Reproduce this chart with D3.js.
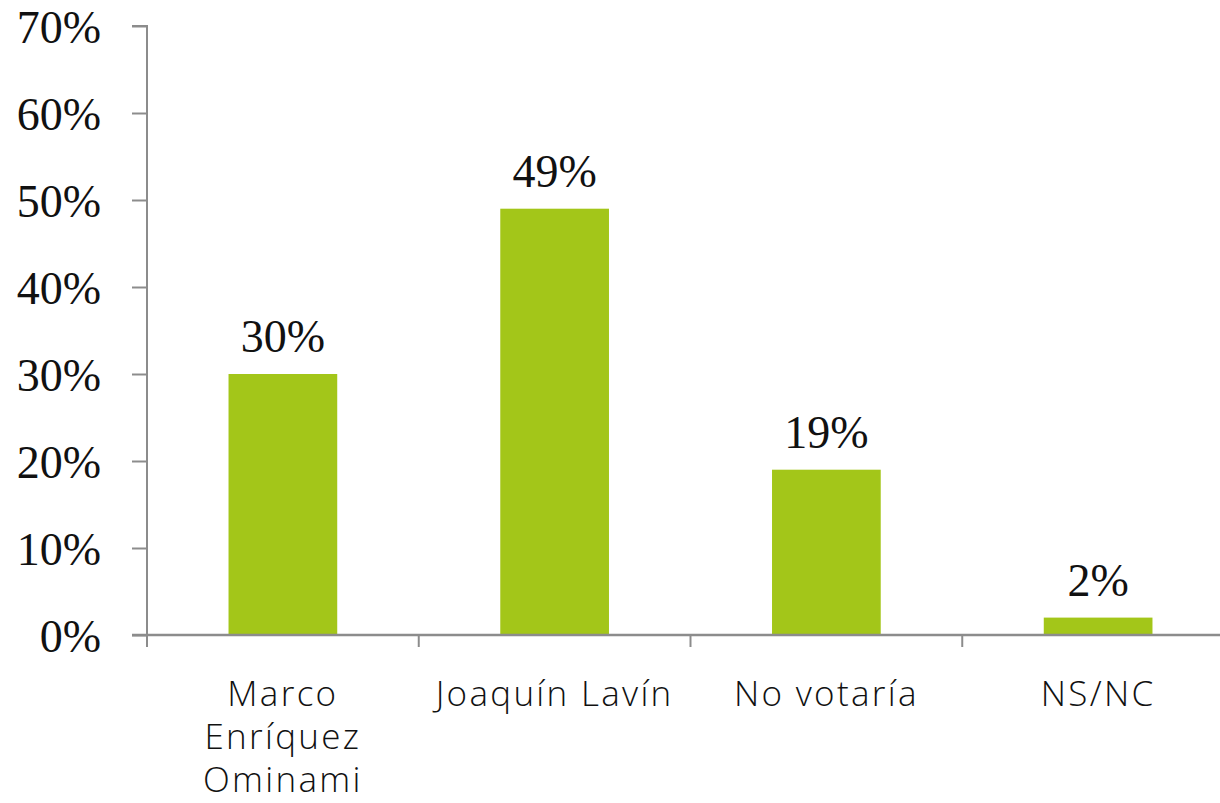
<!DOCTYPE html>
<html><head><meta charset="utf-8">
<script src="https://cdn.jsdelivr.net/npm/d3@7"></script>
<style>body{margin:0;background:#fff;overflow:hidden}svg{display:block}</style>
</head><body>
<script>
const categories = [["Marco","Enríquez","Ominami"],["Joaquín Lavín"],["No votaría"],["NS/NC"]];
const values = [30, 49, 19, 2];
const valueLabels = ["30%","49%","19%","2%"];
const yTicks = [0,10,20,30,40,50,60,70];
const yTickLabels = ["0%","10%","20%","30%","40%","50%","60%","70%"];

const W = 1220, H = 803;
const svg = d3.select("body").append("svg").attr("width", W).attr("height", H);
const x = d3.scaleBand().domain(d3.range(categories.length)).range([147, 1234]).paddingInner(0).paddingOuter(0);
const y = d3.scaleLinear().domain([0, 70]).range([635, 26]);
const axisColor = "#8c8c8c";
const barW = x.bandwidth() * 0.4;

// bars
svg.selectAll("rect.bar").data(values).enter().append("rect")
  .attr("x", (d,i) => x(i) + x.bandwidth()/2 - barW/2)
  .attr("y", d => y(d)).attr("width", barW).attr("height", d => y(0) - y(d))
  .attr("fill", "#a3c619");

// value labels
svg.selectAll("text.val").data(values).enter().append("text")
  .attr("x", (d,i) => x(i) + x.bandwidth()/2).attr("y", d => y(d) - 22)
  .attr("text-anchor", "middle").attr("font-family", "Liberation Serif, serif")
  .attr("font-size", 46).attr("fill", "#111").text((d,i) => valueLabels[i]);

// y axis
const gy = svg.append("g").attr("transform", "translate(147,0)")
  .call(d3.axisLeft(y).tickValues(yTicks).tickSize(15).tickPadding(31).tickFormat((d,i) => yTickLabels[i]));
gy.select(".domain").attr("stroke", axisColor).attr("stroke-width", 2).attr("d", `M-15,${y(70)}H0V${y(0)}`);
gy.selectAll(".tick line").attr("stroke", axisColor).attr("stroke-width", 2);
gy.selectAll(".tick text").attr("font-family", "Liberation Serif, serif").attr("font-size", 46).attr("fill", "#111").attr("dy", "0.35em");

// x axis
const gx = svg.append("g").attr("transform", `translate(0,${y(0)})`);
gx.append("line").attr("x1", 132).attr("x2", 1234).attr("y1", 0).attr("y2", 0).attr("stroke", axisColor).attr("stroke-width", 2.5);
gx.selectAll("line.tk").data(d3.range(categories.length + 1)).enter().append("line")
  .attr("x1", i => i < categories.length ? x(i) : x(i-1) + x.bandwidth())
  .attr("x2", i => i < categories.length ? x(i) : x(i-1) + x.bandwidth())
  .attr("y1", 0).attr("y2", 12).attr("stroke", axisColor).attr("stroke-width", 2);
const lbl = gx.selectAll("text.cat").data(categories).enter().append("text")
  .attr("text-anchor", "middle").attr("font-family", "Open Sans, sans-serif").attr("font-weight", 300)
  .attr("font-size", 35).attr("letter-spacing", "2.3px").attr("fill", "#111");
lbl.each(function(lines, i) {
  const t = d3.select(this);
  lines.forEach((ln, j) => t.append("tspan").attr("x", x(i) + x.bandwidth()/2).attr("y", 71 + j*43).text(ln));
});
</script>
</body></html>
